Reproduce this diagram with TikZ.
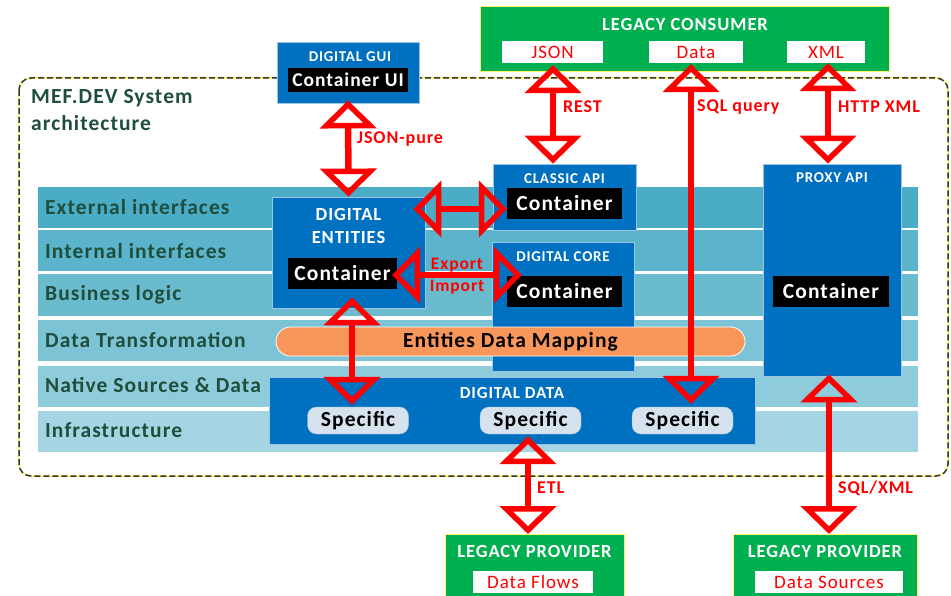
\documentclass[tikz,border=0pt]{standalone}
\usepackage{fontspec}
\setmainfont{Carlito}[LetterSpace=5]
\usetikzlibrary{arrows.meta,calc}

\definecolor{bandA}{HTML}{4BACC6}
\definecolor{bandB}{HTML}{5BB4CB}
\definecolor{bandC}{HTML}{6BBBCF}
\definecolor{bandD}{HTML}{7CC3D5}
\definecolor{bandE}{HTML}{8ECBDB}
\definecolor{bandF}{HTML}{A5D5E2}
\definecolor{boxblue}{HTML}{0070C0}
\definecolor{boxedge}{HTML}{9DC3E6}
\definecolor{lgreen}{HTML}{00B050}
\definecolor{txtgreen}{HTML}{1F4E3D}
\definecolor{pillorange}{HTML}{F9975B}
\definecolor{specfill}{HTML}{D6E3EE}
\definecolor{linkred}{HTML}{FF0000}

\newcommand{\fsz}[1]{\fontsize{#1}{#1}\selectfont}

\tikzset{
  band/.style={fill=#1, draw=none, minimum width=880, minimum height=41, inner sep=0, anchor=west},
  bandlabel/.style={text=txtgreen, font=\fsz{21.5}\bfseries, anchor=west, inner sep=0},
  bluebox/.style={fill=boxblue, draw=boxedge, line width=0.8, inner sep=0},
  boxtitle/.style={text=white, font=\fsz{15}\bfseries, inner sep=0},
  cont/.style={fill=black, text=white, font=\fsz{21.5}\bfseries, inner sep=0},
  greenbox/.style={fill=lgreen, draw=yellow!60, line width=1, inner sep=0},
  whitetag/.style={fill=white, text=linkred, font=\fsz{19}, inner sep=0, minimum height=22},
  spec/.style={fill=specfill, draw=boxedge, rounded corners=9, font=\fsz{21.5}\bfseries,
    minimum width=101, minimum height=27, inner sep=0},
  ends/.tip={Triangle[open, width=56, length=28, line width=5.5]},
  link/.style={draw=linkred, line width=6.5, ends-ends},
  linklabel/.style={text=linkred, font=\fsz{18}\bfseries, anchor=west, inner sep=0},
}

\begin{document}
\begin{tikzpicture}[x=1pt, y=-1pt]
\useasboundingbox (0,0) rectangle (951,596);
\fill[white] (0,0) rectangle (951,596);

% system frame
\draw[yellow!70, line width=1.5, rounded corners=12] (19,78) rectangle (948,476);
\draw[black!80, line width=1.5, dash pattern=on 6 off 3, rounded corners=12] (19,78) rectangle (948,476);
\node[text=txtgreen, font=\fontsize{21.5}{27}\selectfont\bfseries, align=left, anchor=north west, inner sep=0]
  (title) at (31,89) {MEF.DEV System\\architecture};

% layer bands
\node[band=bandA] (b1) at (38,207.5) {};
\node[band=bandB] (b2) at (38,251) {};
\node[band=bandC] (b3) at (38,295) {};
\node[band=bandD] (b4) at (38,340.5) {};
\node[band=bandE] (b5) at (38,386) {};
\node[band=bandF] (b6) at (38,431) {};
\node[bandlabel] (l1) at (45,207) {External interfaces};
\node[bandlabel] (l2) at (45,251) {Internal interfaces};
\node[bandlabel] (l3) at (45,295) {Business logic};
\node[bandlabel] (l4) at (45,340) {Data Transformation};
\node[bandlabel] (l5) at (45,385) {Native Sources \& Data};
\node[bandlabel] (l6) at (45,430) {Infrastructure};

% digital GUI
\node[bluebox, minimum width=142, minimum height=61] (gui) at (348,72.5) {};
\node[boxtitle] (guit) at (350,57) {DIGITAL GUI};
\node[cont, font=\fsz{19.5}\bfseries, minimum width=120, minimum height=24] (cgui) at (348,80) {Container UI};

% digital entities
\node[bluebox, minimum width=153, minimum height=111] (ent) at (348.5,252.5) {};
\node[boxtitle, font=\fontsize{18.5}{23}\selectfont\bfseries, align=center] (entt) at (348.5,225.5) {DIGITAL\\ENTITIES};
\node[cont, minimum width=109, minimum height=31] (cent) at (342.5,273.5) {Container};

% classic API
\node[bluebox, minimum width=143, minimum height=66] (cls) at (564.5,197) {};
\node[boxtitle, font=\fsz{15}\bfseries] (clst) at (564.5,179) {CLASSIC API};
\node[cont, minimum width=115, minimum height=31] (ccls) at (564.5,203.5) {Container};

% digital core
\node[bluebox, minimum width=142, minimum height=129] (core) at (563,306.5) {};
\node[boxtitle] (coret) at (563,257) {DIGITAL CORE};
\node[cont, minimum width=115, minimum height=31] (ccore) at (564.5,291.5) {Container};

% proxy API
\node[bluebox, minimum width=138, minimum height=212] (prx) at (832,270) {};
\node[boxtitle, font=\fsz{15}\bfseries] (prxt) at (832,178) {PROXY API};
\node[cont, minimum width=116, minimum height=31] (cprx) at (831,291.5) {Container};

% mapping layer
\node[fill=pillorange, draw=white, line width=0.8, rounded corners=14.5, minimum width=469,
  minimum height=29, inner sep=0, font=\fsz{21.5}\bfseries] (map) at (510.5,341.5) {Entities Data Mapping};

% digital data
\node[bluebox, minimum width=486, minimum height=67] (dat) at (512,410.5) {};
\node[boxtitle, font=\fsz{17}\bfseries] (datt) at (512,393) {DIGITAL DATA};
\node[spec] (sp1) at (358,420.5) {Specific};
\node[spec] (sp2) at (530.5,420.5) {Specific};
\node[spec] (sp3) at (682.5,420.5) {Specific};

% legacy consumer
\node[greenbox, minimum width=409, minimum height=65] (cons) at (684.5,39.5) {};
\node[boxtitle, font=\fsz{18.5}\bfseries] (const) at (685,25) {LEGACY CONSUMER};
\node[whitetag, minimum width=101] (tjson) at (552.5,52) {JSON};
\node[whitetag, minimum width=94] (tdata) at (696,52) {Data};
\node[whitetag, minimum width=78] (txml) at (826,52) {XML};

% legacy providers
\node[greenbox, minimum width=179, minimum height=70, anchor=north] (prov1) at (534.5,534) {};
\node[boxtitle, font=\fsz{18.5}\bfseries] (prov1t) at (534.5,551) {LEGACY PROVIDER};
\node[whitetag, minimum width=120] (tflow) at (533,582) {Data Flows};
\node[greenbox, minimum width=184, minimum height=70, anchor=north] (prov2) at (825,534) {};
\node[boxtitle, font=\fsz{18.5}\bfseries] (prov2t) at (825,551) {LEGACY PROVIDER};
\node[whitetag, minimum width=148] (tsrc) at (829,582) {Data Sources};

% lines of the links that do not fall on a node centre
\coordinate (restx) at (553,0);
\coordinate (sqlx) at (691,0);
\coordinate (httpx) at (828,0);
\coordinate (specx) at (352,0);
\coordinate (etlx) at (528,0);
\coordinate (sqlxmlx) at (829,0);
\coordinate (apiy) at (0,209);
\coordinate (coreyy) at (0,275);

% links
\draw[link] ($(gui.south)+(0,-3)$) -- (ent.north);
\node[linklabel] (ljson) at (357,139) {JSON-pure};

\draw[link] ($(tjson.south -| restx)+(0,2)$) -- (cls.north -| restx);
\node[linklabel] (lrest) at (563,107) {REST};

\draw[link] ($(tdata.south -| sqlx)+(0,1)$) -- ($(sp3.north -| sqlx)+(0,-3)$);
\node[linklabel] (lsql) at (697,107) {SQL query};

\draw[link] (txml.south -| httpx) -- (prx.north -| httpx);
\node[linklabel] (lhttp) at (838,107) {HTTP XML};

\draw[link] ($(ent.east |- apiy)+(-12,0)$) -- (ccls.west |- apiy);

\draw[link] ($(cent.east |- coreyy)+(-5,0)$) -- ($(ccore.west |- coreyy)+(15,0)$);
\node[text=linkred, font=\fsz{17.5}\bfseries, inner sep=0] (lexp) at (457,265) {Export};
\node[text=linkred, font=\fsz{17.5}\bfseries, inner sep=0] (limp) at (457,287) {Import};

\draw[link] ($(ent.south -| specx)+(0,-11)$) -- ($(sp1.north -| specx)+(0,-2)$);

\draw[link] ($(sp2.south -| etlx)+(0,2)$) -- (prov1.north -| etlx);
\node[linklabel] (letl) at (537,488) {ETL};

\draw[link] ($(prx.south -| sqlxmlx)+(0,-2)$) -- (prov2.north -| sqlxmlx);
\node[linklabel] (lsx) at (838,488) {SQL/XML};
\end{tikzpicture}
\end{document}
